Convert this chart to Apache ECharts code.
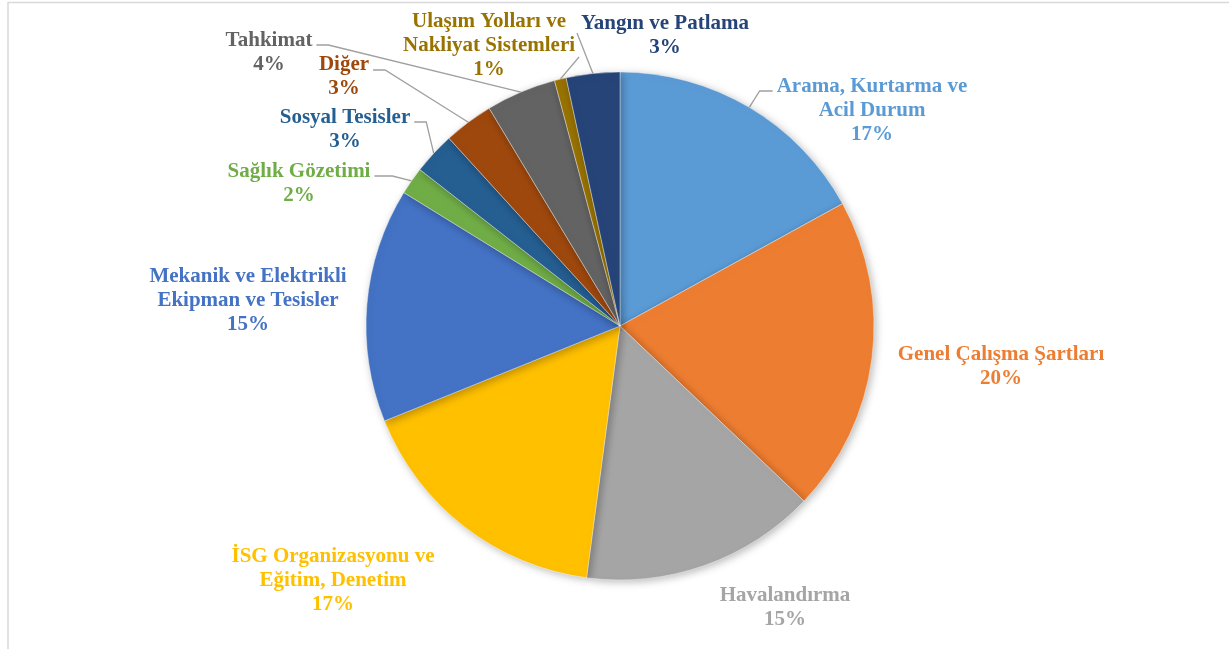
<!DOCTYPE html>
<html>
<head>
<meta charset="utf-8">
<script src="https://cdn.jsdelivr.net/npm/echarts@6/dist/echarts.min.js"></script>
<style>
  html, body { margin: 0; padding: 0; background: #fff; }
  #chart { width: 1229px; height: 649px; }
</style>
</head>
<body>
<div id="chart"></div>
<script>
// kategoriler (dilim sırası: saat yönünde, tepeden başlayarak)
var categories = ['Arama, Kurtarma ve Acil Durum', 'Genel Çalışma Şartları', 'Havalandırma',
  'İSG Organizasyonu ve Eğitim, Denetim', 'Mekanik ve Elektrikli Ekipman ve Tesisler',
  'Sağlık Gözetimi', 'Sosyal Tesisler', 'Diğer', 'Tahkimat',
  'Ulaşım Yolları ve Nakliyat Sistemleri', 'Yangın ve Patlama'];
// etiketlerde satır kırılmaları
var labelNames = ['Arama, Kurtarma ve\nAcil Durum', 'Genel Çalışma Şartları', 'Havalandırma',
  'İSG Organizasyonu ve\nEğitim, Denetim', 'Mekanik ve Elektrikli\nEkipman ve Tesisler',
  'Sağlık Gözetimi', 'Sosyal Tesisler', 'Diğer', 'Tahkimat',
  'Ulaşım Yolları ve\nNakliyat Sistemleri', 'Yangın ve Patlama'];
// dilim payları (%)
var values = [17.0, 20.1, 15.0, 16.8, 14.9, 1.76, 2.68, 3.15, 4.46, 0.75, 3.4];
var colors = ['#5B9BD5', '#ED7D31', '#A5A5A5', '#FFC000', '#4472C4', '#70AD47',
  '#255E91', '#9E480E', '#636363', '#997300', '#264478'];

// etiket blok merkezleri (px)
var labelPos = [[872, 111], [1001, 367], [785, 608], [333, 581], [248, 301], [299, 184],
  [345, 130], [344, 77], [269, 53], [489, 46], [665, 36]];
// kılavuz çizgi: [etiketin hangi kenarı, üstten y, dirsek uzunluğu] ya da null
var leaders = [['left', 16, 13], null, null, null, null, ['right', 16, 18],
  ['right', 16, 12], ['right', 17, 12], ['right', 16, 12], ['right', 47, 0], ['left', 21, 0]];

var cx = 620, cy = 326, R = 254;

// her dilimin orta açısı (tepeden saat yönünde)
var total = values.reduce(function (a, b) { return a + b; }, 0);
var midAngles = [];
var acc = 0;
values.forEach(function (v) {
  midAngles.push((acc + v / 2) / total * Math.PI * 2);
  acc += v;
});

var myChart = echarts.init(document.getElementById('chart'));

var option = {
  animation: false,
  color: colors,
  graphic: [{
    type: 'rect',
    shape: { x: 8, y: 2.5, width: 1300, height: 700 },
    style: { fill: 'none', stroke: '#D9D9D9', lineWidth: 1.5 }
  }],
  series: [{
    type: 'pie',
    center: [cx, cy],
    radius: R,
    startAngle: 90,
    clockwise: true,
    avoidLabelOverlap: false,
    itemStyle: {
      borderColor: '#fff',
      borderWidth: 0.4,
      shadowBlur: 8,
      shadowOffsetX: 2,
      shadowOffsetY: 2,
      shadowColor: 'rgba(0,0,0,0.28)'
    },
    label: {
      show: true,
      position: 'outside',
      fontFamily: 'Liberation Serif',
      fontWeight: 'bold',
      fontSize: 21,
      lineHeight: 24,
      align: 'center',
      formatter: function (p) {
        return labelNames[p.dataIndex] + '\n' + Math.round(p.percent) + '%';
      }
    },
    labelLine: {
      show: true,
      length: 10,
      length2: 10,
      lineStyle: { color: '#A0A0A0', width: 1.3 }
    },
    labelLayout: function (p) {
      var i = p.dataIndex;
      var pos = labelPos[i];
      var w = p.labelRect.width, h = p.labelRect.height;
      var res = { x: pos[0], y: pos[1], align: 'center', verticalAlign: 'middle' };
      var ld = leaders[i];
      if (ld) {
        var a = midAngles[i];
        var p0 = [cx + R * Math.sin(a), cy - R * Math.cos(a)];
        var top = pos[1] - h / 2;
        var ey = top + ld[1];
        var ex = ld[0] === 'left' ? pos[0] - w / 2 - 4 : pos[0] + w / 2 + 4;
        var bx = ld[0] === 'left' ? ex - ld[2] : ex + ld[2];
        res.labelLinePoints = [p0, [bx, ey], [ex, ey]];
      }
      return res;
    },
    data: categories.map(function (c, i) {
      return {
        name: c,
        value: values[i],
        label: { color: colors[i] },
        labelLine: { show: leaders[i] !== null }
      };
    })
  }]
};

myChart.setOption(option);
window.onresize = function () { myChart.resize(); };
</script>
</body>
</html>
